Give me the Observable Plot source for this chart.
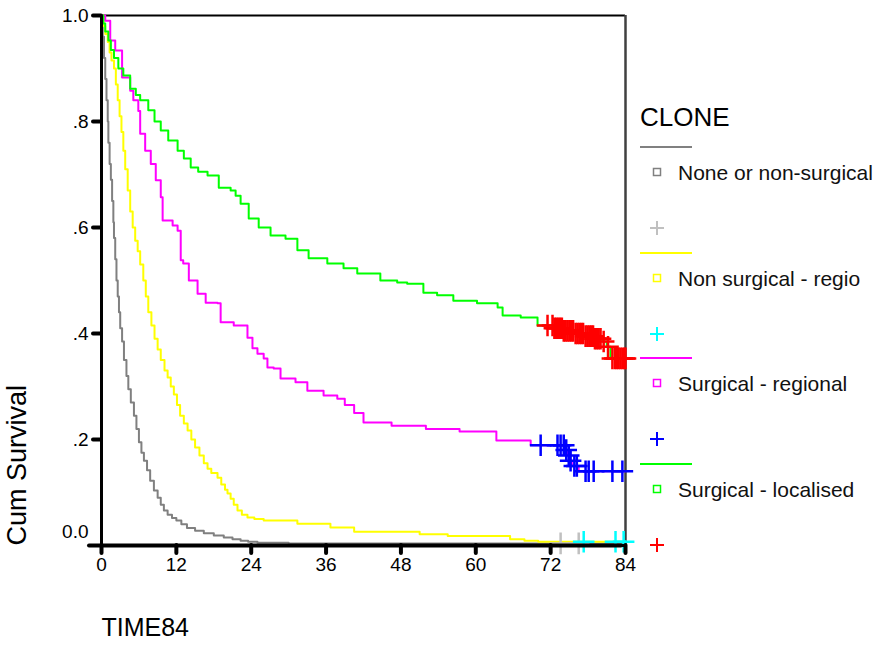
<!DOCTYPE html>
<html>
<head>
<meta charset="utf-8">
<script src="https://cdn.jsdelivr.net/npm/d3@7"></script>
<script src="https://cdn.jsdelivr.net/npm/@observablehq/plot@0.6"></script>
<style>
  html, body { margin: 0; padding: 0; background: #fff; }
  #wrap { position: relative; width: 878px; height: 651px; font-family: "Liberation Sans", Arial, sans-serif; }
  #chart { position: absolute; left: 0; top: 0; }
  #legend { position: absolute; left: 0; top: 0; }
</style>
</head>
<body>
<div id="wrap"><div id="chart"></div><svg id="legend" width="878" height="651"></svg></div>
<script>
// ---- data ----
const groups = ["None or non-surgical", "Non surgical - regio", "Surgical - regional", "Surgical - localised"];
const lineColors = ["#808080", "#ffff00", "#ff00ff", "#00ff00"];
const censorColors = ["#c0c0c0", "#00ffff", "#0000ff", "#ff0000"];

const tNone = [0,0.2,0.4,0.6,0.8,1.0,1.1,1.3,1.5,1.7,1.9,2.0,2.2,2.4,2.6,2.8,3.0,3.3,3.6,4.0,4.3,4.7,5.2,5.6,6.0,6.4,6.8,7.3,7.8,8.4,9.0,9.5,10,10.6,11.3,12,12.8,13.7,15,16.4,18,19.6,21,22.3,23.5,25,30,84];
const sNone = [1,0.96,0.92,0.88,0.84,0.80,0.76,0.72,0.69,0.65,0.61,0.58,0.54,0.50,0.47,0.44,0.41,0.385,0.35,0.32,0.295,0.27,0.245,0.22,0.195,0.175,0.16,0.142,0.122,0.104,0.09,0.077,0.066,0.058,0.052,0.047,0.04,0.033,0.028,0.023,0.019,0.015,0.012,0.009,0.007,0.005,0.004,0.004];

const tNonReg = [0,0.3,0.6,1,1.3,1.6,2,2.3,2.6,2.9,3.2,3.5,3.8,4.2,4.6,5.0,5.4,5.8,6.2,6.7,7.1,7.5,8.0,8.5,9.0,9.5,10.1,10.6,11.1,11.6,12.1,12.6,13.2,13.8,14.4,15.0,15.7,16.4,17.0,17.6,18.6,19.2,19.8,20.2,20.7,21.2,21.8,22.5,23.4,24.5,26,31.4,36.7,40.5,51,55.5,65.5,67.8,70,84];
const sNonReg = [1,0.98,0.965,0.95,0.93,0.915,0.90,0.87,0.84,0.81,0.78,0.745,0.71,0.67,0.63,0.60,0.575,0.555,0.53,0.50,0.47,0.44,0.415,0.39,0.37,0.35,0.33,0.317,0.30,0.285,0.265,0.245,0.23,0.217,0.20,0.185,0.17,0.155,0.145,0.137,0.128,0.115,0.105,0.098,0.088,0.077,0.066,0.058,0.053,0.05,0.047,0.041,0.034,0.026,0.021,0.018,0.012,0.009,0.007,0.007];

const tSurgReg = [0,0.6,1.4,2.2,3.3,4.6,5.1,5.9,6.2,7,7.9,8.7,9.5,9.8,11.4,12.2,12.7,13.1,14,15.4,16.7,18.6,19.1,21.2,23.4,24.2,25,26,26.6,27.6,28.7,31.1,33,35.6,37.8,39,40.5,42,46.5,52,57.4,63.3,68.8,74.2,74.8,75.1,75.4,76.5,84];
const sSurgReg = [1,0.99,0.953,0.934,0.883,0.858,0.84,0.82,0.777,0.745,0.72,0.689,0.657,0.613,0.604,0.594,0.538,0.532,0.5,0.475,0.458,0.457,0.421,0.415,0.392,0.372,0.362,0.353,0.336,0.334,0.315,0.308,0.292,0.283,0.277,0.265,0.25,0.232,0.226,0.22,0.215,0.198,0.189,0.18,0.17,0.16,0.15,0.14,0.14];

const tSurgLoc = [0,0.3,0.6,1.1,1.5,2,2.7,3.5,4.6,5.5,6.2,7.5,8.5,9.5,10.7,12.2,13.2,14.3,15.5,17,18.8,20.7,21.5,22.3,23.6,25.2,27.1,29.5,31.4,33.2,36.2,38.8,41,44.7,47.4,49,51.6,53.8,56.4,60.2,63.5,64.3,67.2,69.9,72.5,74,76,77.5,79,80.3,81,81.6,84];
const sSurgLoc = [1,0.985,0.97,0.953,0.935,0.92,0.9,0.887,0.862,0.85,0.84,0.821,0.80,0.783,0.764,0.745,0.73,0.713,0.705,0.698,0.675,0.67,0.66,0.645,0.617,0.60,0.585,0.579,0.557,0.542,0.532,0.523,0.513,0.50,0.496,0.494,0.477,0.472,0.462,0.457,0.449,0.434,0.43,0.415,0.41,0.405,0.40,0.395,0.39,0.385,0.375,0.353,0.353];

// censored times
const cNone = [73.6, 76.5];
const cNonReg = [77.3, 82.4, 83.7];
const cSurgReg = [70.4, 73.1, 73.6, 74.1, 74.5, 74.9, 75.2, 75.8, 76.2, 77.6, 78.1, 78.9, 81.9, 83.5];
const cSurgLoc = [71.5, 72.3, 72.6, 72.9, 73.2, 73.5, 73.8, 74.1, 74.4, 74.7, 75, 75.3, 75.6, 76, 76.3, 76.6, 76.9, 77.2, 77.6, 77.9, 78.2, 78.5, 78.8, 79.1, 79.4, 79.7, 80, 80.5, 81.2, 81.9, 82.3, 82.6, 82.9, 83.2, 83.5, 83.8, 84];

const xTicks = [0, 12, 24, 36, 48, 60, 72, 84];
const yTicks = [0.2, 0.4, 0.6, 0.8, 1.0];
const yTickLabels = [".2", ".4", ".6", ".8", "1.0"];
const yZeroLabel = "0.0";

// ---- build tables ----
const series = [[tNone, sNone], [tNonReg, sNonReg], [tSurgReg, sSurgReg], [tSurgLoc, sSurgLoc]];
const censored = [cNone, cNonReg, cSurgReg, cSurgLoc];
const curves = series.flatMap(([t, s], g) => t.map((ti, i) => ({group: groups[g], time: ti, surv: s[i]})));
function stepAt(t, s, x) { let v = s[0]; for (let i = 0; i < t.length; i++) if (t[i] <= x) v = s[i]; return v; }
const marks = censored.flatMap((cs, g) => cs.map(c => ({group: groups[g], time: c, surv: stepAt(series[g][0], series[g][1], c)})));

const font = "'Liberation Sans', Arial, sans-serif";

const chart = Plot.plot({
  width: 640, height: 651,
  marginLeft: 101, marginRight: 15, marginTop: 15, marginBottom: 106,
  style: {fontFamily: font, fontSize: "19px", background: "white", color: "black", overflow: "visible"},
  x: {domain: [0, 84], axis: null},
  y: {domain: [0, 1], axis: null},
  marks: [
    Plot.ruleY([1], {stroke: "black", strokeWidth: 2}),
    Plot.ruleX([84], {stroke: "#404040", strokeWidth: 2.5}),
    ...groups.map((g, i) => Plot.line(curves.filter(d => d.group === g), {x: "time", y: "surv", stroke: lineColors[i], strokeWidth: 2, curve: "step-after"})),
    ...groups.map((g, i) => Plot.dot(marks.filter(d => d.group === g), {x: "time", y: "surv", symbol: "plus", r: 7, stroke: censorColors[i], strokeWidth: 2.5})),
    Plot.ruleX([0], {stroke: "black", strokeWidth: 3}),
    Plot.ruleY([0], {stroke: "black", strokeWidth: 3}),
    Plot.axisX({ticks: xTicks, tickSize: 8, tickPadding: 4, strokeWidth: 4, strokeLinecap: "round", tickFormat: d => String(d), fontSize: 19, label: null}),
    Plot.axisY({ticks: yTicks, tickSize: 8, tickPadding: 5, strokeWidth: 4, strokeLinecap: "round", tickFormat: d => yTickLabels[yTicks.indexOf(d)], fontSize: 19, label: null}),
    Plot.tickY([0], {dx: -4, stroke: "black", strokeWidth: 4, strokeLinecap: "round", insetLeft: -8}),
    Plot.text([yZeroLabel], {frameAnchor: "bottom-left", dx: -13, dy: -8, textAnchor: "end", fontSize: 19}),
    Plot.text(["TIME84"], {frameAnchor: "bottom-left", dy: 90, textAnchor: "start", fontSize: 25}),
    Plot.text(["Cum Survival"], {frameAnchor: "bottom-left", dx: -76, rotate: -90, textAnchor: "start", fontSize: 27})
  ]
});
document.getElementById("chart").appendChild(chart);

// ---- legend ----
const leg = d3.select("#legend").style("font-family", font);
leg.append("text").attr("x", 640).attr("y", 117).attr("dominant-baseline", "central").attr("font-size", 26).text("CLONE");
const lineY = [147, 253, 358, 464];
groups.forEach((g, i) => {
  const y0 = lineY[i];
  leg.append("line").attr("x1", 640).attr("x2", 692).attr("y1", y0).attr("y2", y0).attr("stroke", lineColors[i]).attr("stroke-width", 2);
  leg.append("rect").attr("x", 653.5).attr("y", y0 + 21.5).attr("width", 7).attr("height", 7).attr("fill", "none").attr("stroke", lineColors[i]).attr("stroke-width", 1.5);
  leg.append("text").attr("x", 678).attr("y", y0 + 25).attr("dominant-baseline", "central").attr("font-size", 21).attr("fill", "#111").text(g);
  const py = y0 + 81;
  leg.append("path").attr("d", `M650,${py}h14M657,${py - 7}v14`).attr("stroke", censorColors[i]).attr("stroke-width", 2).attr("fill", "none");
});
</script>
</body>
</html>
